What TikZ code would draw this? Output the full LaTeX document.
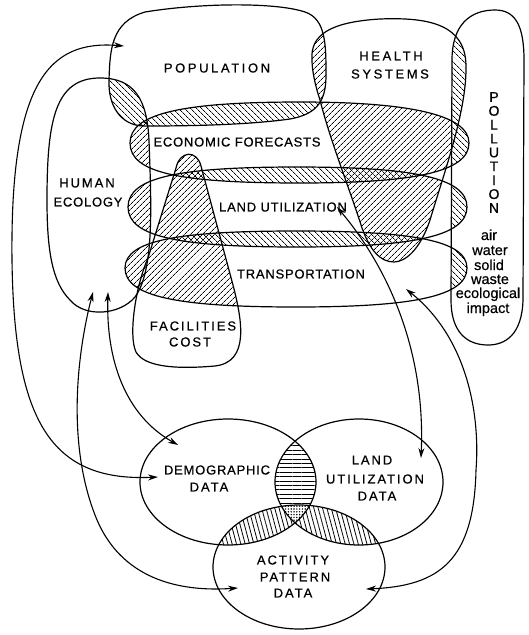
\documentclass[tikz,border=0pt]{standalone}
\usepackage{fontspec}
\setmainfont{Liberation Sans}[FakeBold=0.6]
\newfontfamily\wideF[LetterSpace=20,FakeBold=0.6]{Liberation Sans}
\newfontfamily\midF[LetterSpace=15,FakeBold=0.6]{Liberation Sans}
\newfontfamily\narF[LetterSpace=6,FakeBold=0.6]{Liberation Sans}
\newfontfamily\plainF[FakeBold=0.6]{Liberation Sans}
\usetikzlibrary{patterns.meta,arrows.meta}
\tikzset{
  outline/.style={draw=black,line width=1.2pt},
  hatchA/.style={pattern={Lines[angle=45,distance=4pt,line width=0.8pt]}},
  hatchB/.style={pattern={Lines[angle=-45,distance=4pt,line width=0.8pt]}},
  hatchH/.style={pattern={Lines[angle=0,distance=4.4pt,line width=0.8pt]}},
  hatchV/.style={pattern={Lines[angle=105,distance=4.2pt,line width=0.8pt]}},
  dotsP/.style={pattern={Dots[distance=2.8pt,radius=0.8pt]}},
  twoway/.style={line width=1.1pt,{Stealth[length=10pt,width=6pt]}-{Stealth[length=10pt,width=6pt]}},
  capW/.style={font=\fontsize{13}{15}\selectfont\wideF,inner sep=0pt},
  capM/.style={font=\fontsize{13}{15}\selectfont\midF,inner sep=0pt},
  capN/.style={font=\fontsize{13}{15}\selectfont\narF,inner sep=0pt},
  capP/.style={font=\fontsize{14}{16}\selectfont\plainF,inner sep=0pt},
  lowP/.style={font=\fontsize{14.5}{16}\selectfont\plainF,inner sep=0pt,anchor=base},
}
\begin{document}
\begin{tikzpicture}[x=1pt,y=-1pt]
\useasboundingbox (0,0) rectangle (528,635);
\fill[white] (0,0) rectangle (528,635);
\def\popP{(109,80) .. controls (110,50) and (111,22) .. (145,12) .. controls (200,3) and (275,2) .. (305,12) .. controls (326,19) and (326,45) .. (326,75) .. controls (326,100) and (318,114) .. (290,119) .. controls (240,126) and (170,126) .. (143,126) .. controls (120,125) and (108,105) .. (109,80) -- cycle}
\def\healthP{(312,60) .. controls (310,35) and (330,22) .. (380,19) .. controls (430,17) and (465,25) .. (466,65) .. controls (467,110) and (445,170) .. (430,220) .. controls (420,250) and (405,262) .. (394,262) .. controls (380,262) and (370,250) .. (362,228) .. controls (350,190) and (330,140) .. (320,100) .. controls (315,85) and (312,70) .. (312,60) -- cycle}
\def\pollP{(452,60) .. controls (452,25) and (470,10) .. (495,10) .. controls (515,10) and (524,25) .. (524,60) -- (523,300) .. controls (522,335) and (505,345) .. (488,345) .. controls (465,345) and (451,330) .. (451,300) -- cycle}
\def\humanP{(47,200) .. controls (47,120) and (55,78) .. (100,78) .. controls (135,78) and (147,100) .. (149,140) .. controls (151,200) and (155,270) .. (135,297) .. controls (120,315) and (85,318) .. (70,300) .. controls (52,282) and (47,250) .. (47,200) -- cycle}
\def\facP{(176,168) .. controls (180,150) and (197,150) .. (201,166) -- (233,285) .. controls (242,320) and (250,362) .. (215,366) .. controls (180,369) and (145,368) .. (136,352) .. controls (128,335) and (136,285) .. (148,258) -- cycle}
\def\econP{(130,143) .. controls (130,114) and (180,102) .. (300,102) .. controls (410,102) and (469,115) .. (469,143) .. controls (469,173) and (410,183) .. (300,183) .. controls (180,183) and (130,173) .. (130,143) -- cycle}
\def\landP{(128,207) .. controls (128,177) and (180,167) .. (297,167) .. controls (410,167) and (467,177) .. (467,207) .. controls (467,237) and (410,247) .. (297,247) .. controls (180,247) and (128,237) .. (128,207) -- cycle}
\def\transP{(125,268) .. controls (125,240) and (180,231) .. (296,231) .. controls (410,231) and (467,240) .. (467,268) .. controls (467,297) and (410,307) .. (296,307) .. controls (180,307) and (125,297) .. (125,268) -- cycle}
\def\demP{(228,482) ellipse [x radius=88, y radius=63]}
\def\ludP{(359,482) ellipse [x radius=84, y radius=63]}
\def\actP{(299,567) ellipse [x radius=86, y radius=62]}
% hatching, upper part
\begin{scope}\clip\popP; \fill[hatchB]\humanP; \end{scope}
\begin{scope}\clip\popP; \fill[hatchB]\econP; \end{scope}
\begin{scope}\clip\popP; \fill[hatchA]\healthP; \end{scope}
\begin{scope}\clip\humanP; \fill[hatchA]\econP \landP \transP; \end{scope}
\begin{scope}\clip\econP; \fill[hatchB]\landP; \end{scope}
\begin{scope}\clip\landP; \fill[hatchB]\transP; \end{scope}
\begin{scope}\clip\facP; \fill[hatchA]\econP \landP \transP; \end{scope}
\begin{scope}\clip\healthP; \fill[hatchA]\econP \landP \transP; \end{scope}
\begin{scope}\clip\pollP; \fill[white]\healthP \econP \landP \transP; \fill[hatchB]\healthP \econP \landP \transP; \end{scope}
% hatching, Venn part
\begin{scope}\clip\demP; \fill[hatchH]\ludP; \end{scope}
\begin{scope}\clip\actP; \fill[hatchV]\demP \ludP; \end{scope}
\begin{scope}\clip\demP; \clip\ludP; \fill[white]\actP; \fill[dotsP]\actP; \end{scope}
% outlines
\draw[outline]\popP;
\draw[outline]\healthP;
\draw[outline]\pollP;
\draw[outline]\humanP;
\draw[outline]\facP;
\draw[outline]\econP;
\draw[outline]\landP;
\draw[outline]\transP;
\draw[outline]\demP;
\draw[outline]\ludP;
\draw[outline]\actP;
% labels
\node[capW] (tPop) at (217,68) {POPULATION};
\node[capW] (tHealth) at (391,56) {HEALTH};
\node[capW] (tSys) at (390,74) {SYSTEMS};
\node[capN] (tEcon) at (237,142) {ECONOMIC FORECASTS};
\node[capN] (tLand) at (283,207) {LAND UTILIZATION};
\node[capN] (tTrans) at (301,274) {TRANSPORTATION};
\node[capM] (tFac) at (193,326) {FACILITIES};
\node[capM] (tCost) at (190,342) {COST};
\node[capM] (tHuman) at (87,183) {HUMAN};
\node[capN] (tEcol) at (88,202) {ECOLOGY};
\node[capN] (tDem) at (217,470) {DEMOGRAPHIC};
\node[capM] (tDemD) at (209,487) {DATA};
\node[capM] (tLud1) at (372,460) {LAND};
\node[capM] (tLud2) at (375,479) {UTILIZATION};
\node[capM] (tLud3) at (377,496) {DATA};
\node[capM] (tAct1) at (293,560) {ACTIVITY};
\node[capM] (tAct2) at (295,577) {PATTERN};
\node[capM] (tAct3) at (293,593) {DATA};
\foreach \l [count=\i from 0] in {P,O,L,L,U,T,I,O,N}
  \node[capP] (pl\i) at (494,{97+13.875*\i}) {\l};
\node[lowP] (w1) at (489,240) {air};
\node[lowP] (w2) at (490,255) {water};
\node[lowP] (w3) at (489,270) {solid};
\node[lowP] (w4) at (490,284) {waste};
\node[lowP] (w5) at (488,298) {ecological};
\node[lowP] (w6) at (488,313) {impact};
% arrows
\coordinate (a1s) at (124,46); \coordinate (a1e) at (158,477);
\coordinate (a2s) at (93,292); \coordinate (a2e) at (238,588);
\coordinate (a3s) at (108,292); \coordinate (a3e) at (178,445);
\coordinate (a4s) at (337,207); \coordinate (a4e) at (421,458);
\coordinate (a5s) at (406,289); \coordinate (a5e) at (366,589);
\draw[twoway] (a1s) .. controls (50,40) and (10,80) .. (12,260) .. controls (14,420) and (50,482) .. (a1e);
\draw[twoway] (a2s) .. controls (78,350) and (66,440) .. (95,515) .. controls (120,580) and (180,592) .. (a2e);
\draw[twoway] (a3s) .. controls (106,360) and (125,415) .. (a3e);
\draw[twoway] (a4s) .. controls (380,258) and (426,340) .. (a4e);
\draw[twoway] (a5s) .. controls (470,340) and (480,420) .. (476,470) .. controls (474,560) and (440,586) .. (a5e);
\end{tikzpicture}
\end{document}
